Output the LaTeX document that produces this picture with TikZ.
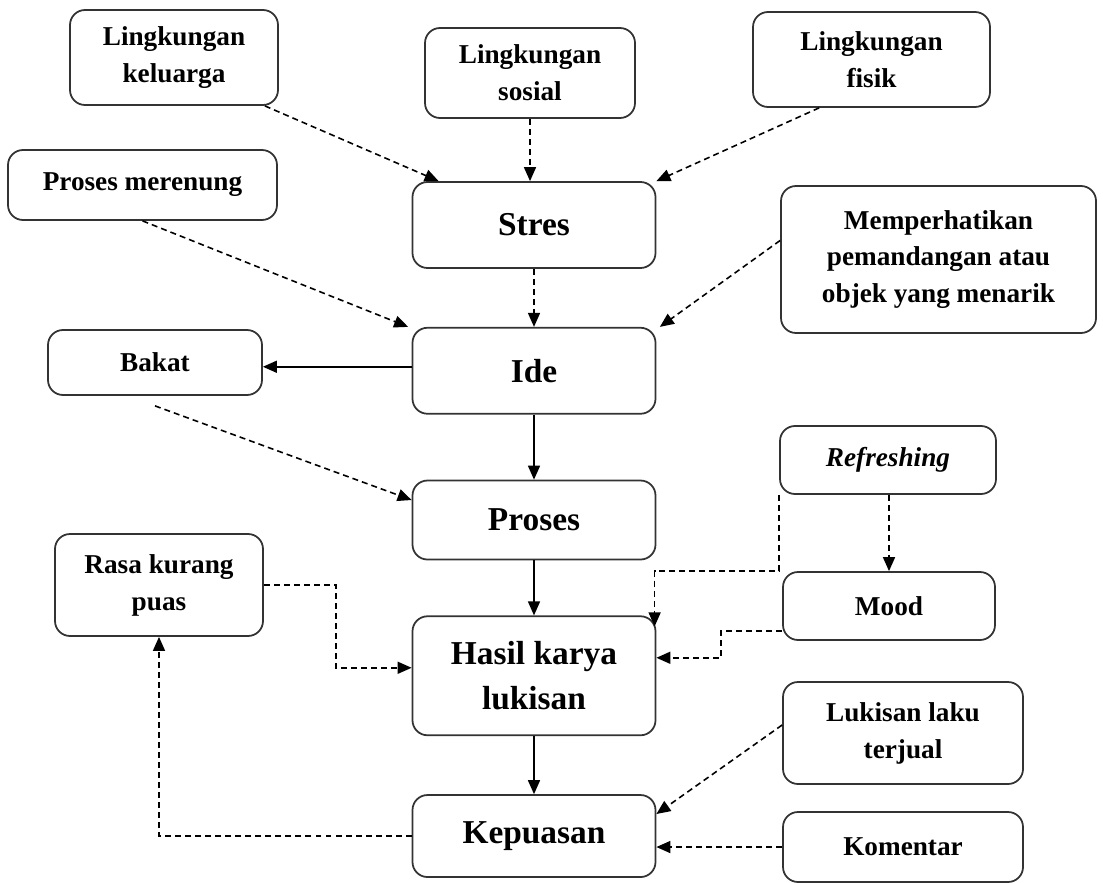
\documentclass[tikz,border=0pt]{standalone}
\usepackage{fontspec}
\setmainfont{Liberation Serif}
\usetikzlibrary{shapes, arrows.meta, positioning}

\begin{document}
\begin{tikzpicture}[
    box/.style={draw=black!80, line width=1pt, rounded corners=0.3cm, align=center, inner sep=2pt},
    mainbox/.style={box, minimum width=4.86cm, font=\fontsize{19}{25.6}\selectfont\bfseries},
    sidebox/.style={box, font=\fontsize{15.5}{21}\selectfont\bfseries},
    dasharrow/.style={-{Triangle[length=0.28cm,width=0.24cm]}, line width=0.9pt, dash pattern=on 3.4pt off 2.3pt},
    solidarrow/.style={-{Triangle[length=0.28cm,width=0.24cm]}, line width=0.9pt}
]
\useasboundingbox (0,0) rectangle (22.06,-17.64);

% Main column
\node[mainbox,
    minimum height=1.72cm
] (stres) at (10.68,-4.5) {Stres};

\node[mainbox,
    below=1.16cm of stres,
    minimum height=1.72cm
] (ide) {Ide};

\node[mainbox,
    below=1.3cm of ide,
    minimum height=1.58cm
] (proses) {Proses};

\node[mainbox,
    below=1.1cm of proses,
    minimum height=2.38cm
] (hasil) {Hasil karya\\lukisan};

\node[mainbox,
    below=1.16cm of hasil,
    minimum height=1.64cm
] (kepuasan) {Kepuasan};

% Environment
\node[sidebox,
    minimum width=4.16cm,
    minimum height=1.9cm
] (keluarga) at (3.48,-1.15) {Lingkungan\\keluarga};

\node[sidebox,
    minimum width=4.2cm,
    minimum height=1.8cm
] (sosial) at (10.6,-1.46) {Lingkungan\\sosial};

\node[sidebox,
    minimum width=4.74cm,
    minimum height=1.9cm
] (fisik) at (17.43,-1.19) {Lingkungan\\fisik};

% Left side
\node[sidebox,
    minimum width=5.38cm,
    minimum height=1.4cm
] (merenung) at (2.85,-3.7) {Proses merenung};

\node[sidebox,
    minimum width=4.28cm,
    minimum height=1.3cm
] (bakat) at (3.1,-7.25) {Bakat};

\node[sidebox,
    minimum width=4.16cm,
    minimum height=2.04cm
] (rasa) at (3.18,-11.7) {Rasa kurang\\puas};

% Right side
\node[sidebox,
    minimum width=6.3cm,
    minimum height=2.94cm
] (objek) at (18.77,-5.19) {Memperhatikan\\pemandangan atau\\objek yang menarik};

\node[sidebox,
    minimum width=4.32cm,
    minimum height=1.36cm
] (refresh) at (17.76,-9.2) {\itshape Refreshing};

\node[sidebox,
    minimum width=4.24cm,
    minimum height=1.36cm
] (mood) at (17.78,-12.12) {Mood};

\node[sidebox,
    minimum width=4.8cm,
    minimum height=2.04cm
] (laku) at (18.06,-14.66) {Lukisan laku\\terjual};

\node[sidebox,
    minimum width=4.8cm,
    minimum height=1.4cm
] (komentar) at (18.06,-16.94) {Komentar};

% Arrows
\draw[solidarrow] (ide) -- (proses);
\draw[solidarrow] (proses) -- (hasil);
\draw[solidarrow] (hasil) -- (kepuasan);
\draw[solidarrow] ([yshift=0.08cm]ide.west) -- ([yshift=0.08cm]ide.west -| bakat.east);

\draw[dasharrow] ([xshift=-8pt]keluarga.south east) -- ([xshift=0.54cm]stres.north west);
\draw[dasharrow] (sosial.south) -- (sosial.south |- stres.north);
\draw[dasharrow] ([xshift=1.34cm]fisik.south west) -- (stres.north east);
\draw[dasharrow] (merenung.south) -- ([xshift=-2pt]ide.north west);
\draw[dasharrow] (stres) -- (ide);
\draw[dasharrow] ([yshift=0.38cm]objek.west) -- ([xshift=2pt]ide.north east);
\draw[dasharrow] ([yshift=-0.2cm]bakat.south) -- ([yshift=0.4cm]proses.west);
\draw[dasharrow] (refresh.south -| mood.north) -- (mood.north);
\draw[dasharrow] (refresh.south west) -- ++(0,-1.52) -| ([xshift=-1pt,yshift=-0.22cm]hasil.north east);
\draw[dasharrow] ([yshift=-0.5cm]mood.west) -- ++(-1.22,0) |- ([yshift=0.36cm]hasil.east);
\draw[dasharrow] (rasa.east) -- ++(1.44,0) |- ([yshift=0.16cm]hasil.west);
\draw[dasharrow] (kepuasan.west) -| (rasa.south);
\draw[dasharrow] ([yshift=0.16cm]laku.west) -- ([yshift=0.44cm]kepuasan.east);
\draw[dasharrow] ([yshift=-0.22cm]kepuasan.east -| komentar.west) -- ([yshift=-0.22cm]kepuasan.east);

\end{tikzpicture}
\end{document}
